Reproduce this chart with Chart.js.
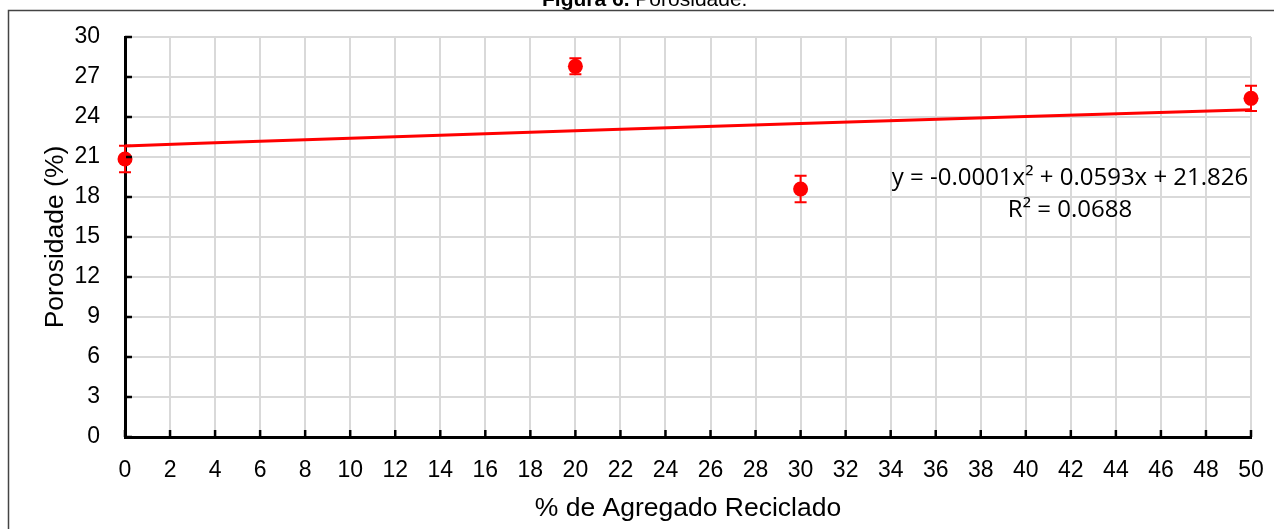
<!DOCTYPE html>
<html>
<head>
<meta charset="utf-8">
<script src="https://cdn.jsdelivr.net/npm/chart.js@4/dist/chart.umd.min.js"></script>
<style>
  html, body { margin: 0; padding: 0; background: #ffffff; }
  #wrap { width: 1274px; height: 529px; position: relative; }
</style>
</head>
<body>
<div id="wrap"><canvas id="c" width="1274" height="529"></canvas></div>
<script>
// Porosity (%) measured for each recycled aggregate content (%)
const recycledContent = [0, 20, 30, 50];
const porosity = [20.85, 27.8, 18.6, 25.4];
const porosityError = [1.0, 0.6, 1.0, 0.95];

// Polynomial trend line y = -0.0001x² + 0.0593x + 21.826, sampled along x
const trendX = [0, 10, 20, 30, 40, 50];
const trendY = [21.83, 22.41, 22.97, 23.52, 24.04, 24.54];

// Axis tick values
const xTicks = [0, 2, 4, 6, 8, 10, 12, 14, 16, 18, 20, 22, 24, 26, 28, 30, 32, 34, 36, 38, 40, 42, 44, 46, 48, 50];
const yTicks = [0, 3, 6, 9, 12, 15, 18, 21, 24, 27, 30];

const titleBold = 'Figura 6.';
const titleRest = ' Porosidade.';
const equationLines = ['y = -0.0001x\u00B2 + 0.0593x + 21.826', 'R\u00B2 = 0.0688'];

const RED = '#ff0000';
const SANS = '"Liberation Sans", Arial, sans-serif';

// Vertical error bars, inside tick marks, outer frame, title and trend equation
const decorations = {
  id: 'decorations',
  beforeDraw(chart) {
    const ctx = chart.ctx;
    ctx.save();
    ctx.fillStyle = '#ffffff';
    ctx.fillRect(0, 0, chart.width, chart.height);
    // outer frame
    ctx.strokeStyle = '#444444';
    ctx.lineWidth = 1.5;
    ctx.beginPath();
    ctx.moveTo(8.5, chart.height);
    ctx.lineTo(8.5, 10.5);
    ctx.lineTo(chart.width, 10.5);
    ctx.stroke();
    // caption above the frame
    ctx.fillStyle = '#000000';
    ctx.textBaseline = 'alphabetic';
    ctx.textAlign = 'left';
    ctx.font = 'bold 21px ' + SANS;
    const x0 = 542;
    ctx.fillText(titleBold, x0, 6);
    const w = ctx.measureText(titleBold).width;
    ctx.font = '21px ' + SANS;
    ctx.fillText(titleRest, x0 + w, 6);
    ctx.restore();
  },
  afterDatasetsDraw(chart) {
    const ctx = chart.ctx;
    const xs = chart.scales.x, ys = chart.scales.y;
    const area = chart.chartArea;
    ctx.save();
    // inside tick marks
    ctx.strokeStyle = '#000000';
    ctx.lineWidth = 2.5;
    ctx.beginPath();
    xTicks.forEach(v => {
      const px = xs.getPixelForValue(v);
      ctx.moveTo(px, area.bottom);
      ctx.lineTo(px, area.bottom - 7);
    });
    yTicks.forEach(v => {
      const py = ys.getPixelForValue(v);
      ctx.moveTo(area.left, py);
      ctx.lineTo(area.left + 7, py);
    });
    ctx.stroke();
    // error bars
    ctx.strokeStyle = RED;
    ctx.lineWidth = 2;
    recycledContent.forEach((x, i) => {
      const px = xs.getPixelForValue(x);
      const hi = ys.getPixelForValue(porosity[i] + porosityError[i]);
      const lo = ys.getPixelForValue(porosity[i] - porosityError[i]);
      ctx.beginPath();
      ctx.moveTo(px, hi); ctx.lineTo(px, lo);
      ctx.moveTo(px - 6, hi); ctx.lineTo(px + 6, hi);
      ctx.moveTo(px - 6, lo); ctx.lineTo(px + 6, lo);
      ctx.stroke();
    });
    ctx.restore();
  },
  afterDraw(chart) {
    const ctx = chart.ctx;
    ctx.save();
    ctx.fillStyle = '#000000';
    ctx.textAlign = 'center';
    ctx.textBaseline = 'middle';
    ctx.font = '24px "Open Sans", sans-serif';
    ctx.fillText(equationLines[0], 1070, 178);
    ctx.fillText(equationLines[1], 1070, 210);
    ctx.restore();
  }
};

new Chart(document.getElementById('c'), {
  type: 'scatter',
  data: {
    datasets: [
      {
        label: 'Porosidade',
        data: recycledContent.map((x, i) => ({ x: x, y: porosity[i] })),
        backgroundColor: RED,
        borderColor: RED,
        pointRadius: 7.5,
        pointHoverRadius: 7.5,
        pointBorderWidth: 0,
        clip: false,
        order: 0
      },
      {
        label: 'Tendência',
        data: trendX.map((x, i) => ({ x: x, y: trendY[i] })),
        showLine: true,
        borderColor: RED,
        borderWidth: 3,
        pointRadius: 0,
        cubicInterpolationMode: 'monotone',
        clip: false,
        order: 1
      }
    ]
  },
  options: {
    responsive: false,
    animation: false,
    events: [],
    layout: { padding: { top: 37, right: 23, left: 0, bottom: 0 } },
    plugins: {
      legend: { display: false },
      title: { display: false },
      tooltip: { enabled: false }
    },
    scales: {
      x: {
        type: 'linear',
        min: 0, max: 50,
        afterBuildTicks: s => { s.ticks = xTicks.map(v => ({ value: v })); },
        afterFit: s => { s.height = 92; s.paddingLeft = 0; s.paddingRight = 0; },
        grid: { color: '#d9d9d9', lineWidth: 2, drawTicks: false },
        border: { display: true, color: '#000000', width: 3 },
        ticks: { color: '#000000', padding: 20, autoSkip: false, maxRotation: 0, font: { family: SANS, size: 23 } },
        title: { display: true, text: '% de Agregado Reciclado', color: '#000000', padding: { top: 0, bottom: 4 }, font: { family: SANS, size: 26.5 } }
      },
      y: {
        type: 'linear',
        min: 0, max: 30,
        afterBuildTicks: s => { s.ticks = yTicks.map(v => ({ value: v })); },
        afterFit: s => { s.width = 125; s.paddingTop = 0; s.paddingBottom = 0; },
        grid: { color: '#d9d9d9', lineWidth: 2, drawTicks: false },
        border: { display: true, color: '#000000', width: 3 },
        ticks: { color: '#000000', padding: 25, font: { family: SANS, size: 23 } },
        title: { display: true, text: 'Porosidade (%)', color: '#000000', padding: { top: 40, bottom: 0 }, font: { family: SANS, size: 26.5 } }
      }
    }
  },
  plugins: [decorations]
});
</script>
</body>
</html>
